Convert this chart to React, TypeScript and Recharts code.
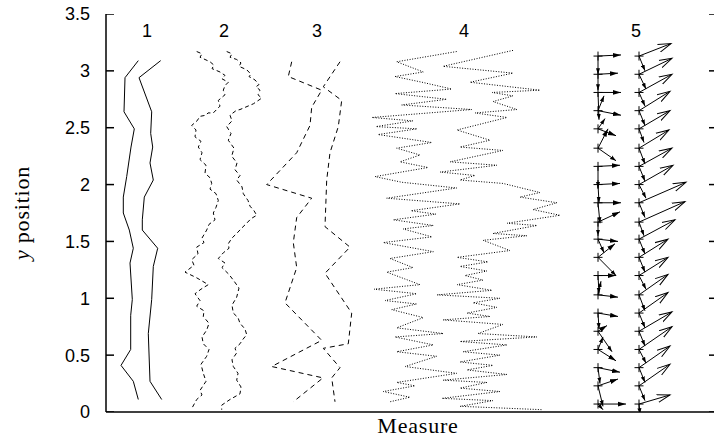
import { ComposedChart, Line, Scatter, XAxis, YAxis, Label } from 'recharts';

const SANS = '"Liberation Sans", Arial, Helvetica, sans-serif';
const SERIF = '"Liberation Serif", "Times New Roman", serif';

// axes
const yTicks = [0, 0.5, 1, 1.5, 2, 2.5, 3, 3.5];
const xDomain: [number, number] = [0, 61.2];

// group labels along the top
const groupNames = ['1', '2', '3', '4', '5'];
const groupX = [4.1, 11.8, 21.1, 35.8, 53.0];
const groupLabelY = 3.35;

type P = [number, number];

// measure 1 (solid)
const m1Left: P[] = [[3.23, 3.09], [1.9, 2.94], [1.8, 2.64], [2.83, 2.49], [2.5, 2.33], [2.07, 2.07], [1.73, 1.89], [1.73, 1.75], [2.33, 1.6], [2.73, 1.44], [2.4, 1.31], [2.63, 0.99], [2.47, 0.85], [2.47, 0.55], [1.5, 0.41], [2.73, 0.27], [3.23, 0.11]];
const m1Right: P[] = [[5.47, 3.09], [3.3, 2.94], [4.57, 2.64], [4.47, 2.45], [4.67, 2.33], [4.4, 2.19], [4.73, 2.04], [3.83, 1.89], [3.63, 1.69], [3.63, 1.6], [5.17, 1.44], [4.73, 1.28], [4.57, 0.99], [4.23, 0.69], [4.4, 0.27], [5.57, 0.11]];

// measure 2 (short dashes)
const m2Left: P[] = [[9.07, 3.17], [9.6, 3.15], [9.4, 3.12], [10.4, 3.08], [10.8, 3.05], [10.6, 3.02], [11.4, 2.99], [11.9, 2.96], [11.6, 2.93], [12.23, 2.9], [11.9, 2.87], [11.73, 2.83], [11.9, 2.79], [11.23, 2.74], [11.4, 2.69], [10.73, 2.63], [10.2, 2.63], [10.0, 2.61], [9.4, 2.6], [9.1, 2.56], [8.57, 2.52], [9.0, 2.48], [8.9, 2.42], [9.5, 2.38], [9.23, 2.33], [9.6, 2.28], [9.4, 2.22], [10.0, 2.17], [9.9, 2.1], [10.4, 2.06], [10.57, 2.01], [10.4, 1.96], [11.0, 1.92], [11.23, 1.86], [11.0, 1.8], [10.73, 1.75], [10.9, 1.69], [10.3, 1.65], [10.07, 1.6], [9.6, 1.53], [9.8, 1.49], [9.07, 1.45], [9.2, 1.39], [8.57, 1.34], [8.8, 1.29], [7.9, 1.23], [9.07, 1.18], [10.23, 1.12], [9.5, 1.08], [8.9, 1.04], [9.4, 0.98], [9.07, 0.93], [9.8, 0.89], [9.73, 0.84], [10.3, 0.78], [10.07, 0.72], [9.6, 0.66], [9.73, 0.6], [10.3, 0.55], [10.07, 0.49], [9.5, 0.42], [9.73, 0.34], [10.0, 0.27], [9.4, 0.19], [9.6, 0.15], [9.07, 0.11], [8.57, 0.03]];
const m2Right: P[] = [[12.07, 3.17], [12.6, 3.15], [12.4, 3.12], [13.07, 3.1], [13.5, 3.07], [13.3, 3.04], [14.07, 3.01], [14.5, 2.97], [14.3, 2.95], [14.9, 2.92], [15.3, 2.88], [15.0, 2.86], [15.4, 2.83], [15.2, 2.79], [15.57, 2.76], [14.73, 2.71], [14.2, 2.69], [13.4, 2.66], [13.0, 2.65], [12.4, 2.61], [12.6, 2.56], [12.07, 2.51], [12.5, 2.45], [12.23, 2.39], [12.8, 2.32], [12.57, 2.25], [13.1, 2.19], [12.9, 2.13], [13.4, 2.08], [13.07, 2.04], [13.6, 1.98], [13.73, 1.92], [14.2, 1.86], [14.4, 1.81], [14.8, 1.77], [15.07, 1.73], [14.5, 1.7], [14.07, 1.66], [13.6, 1.62], [13.07, 1.57], [12.6, 1.53], [12.23, 1.48], [12.3, 1.44], [11.73, 1.4], [11.23, 1.35], [11.9, 1.31], [11.6, 1.27], [12.3, 1.21], [12.73, 1.16], [13.3, 1.09], [13.07, 1.01], [12.6, 0.94], [12.73, 0.87], [13.2, 0.83], [13.4, 0.78], [13.9, 0.73], [14.07, 0.68], [13.7, 0.64], [13.4, 0.6], [12.9, 0.56], [13.07, 0.52], [12.6, 0.46], [12.73, 0.4], [13.2, 0.34], [13.07, 0.28], [13.5, 0.22], [13.4, 0.16], [12.8, 0.13], [12.4, 0.11], [11.9, 0.08], [11.57, 0.06], [11.57, 0.02]];

// measure 3 (long dashes)
const m3Left: P[] = [[18.57, 3.08], [18.23, 2.95], [21.57, 2.83], [20.57, 2.68], [20.4, 2.52], [19.07, 2.28], [16.07, 2.0], [20.57, 1.88], [19.07, 1.71], [18.73, 1.49], [19.07, 1.27], [17.9, 0.96], [21.57, 0.63], [16.57, 0.4], [21.7, 0.3], [18.73, 0.09]];
const m3Right: P[] = [[23.4, 3.08], [21.73, 2.86], [23.57, 2.74], [23.23, 2.51], [22.4, 2.28], [22.07, 2.04], [21.9, 1.63], [24.4, 1.45], [21.9, 1.22], [24.57, 0.87], [24.23, 0.6], [21.73, 0.56], [23.4, 0.39], [22.57, 0.3], [22.9, 0.09]];

// measure 4 (dotted zigzag)
const m4Left: P[] = [[35.07, 3.17], [29.07, 3.08], [31.73, 2.99], [28.9, 2.95], [31.6, 2.9], [34.57, 2.84], [28.9, 2.8], [34.07, 2.75], [29.57, 2.7], [36.57, 2.66], [26.6, 2.59], [30.7, 2.56], [27.0, 2.51], [31.1, 2.49], [27.2, 2.44], [32.57, 2.37], [29.07, 2.32], [31.4, 2.26], [29.4, 2.2], [32.2, 2.15], [26.9, 2.07], [29.6, 2.02], [35.07, 1.97], [28.07, 1.88], [35.4, 1.83], [30.5, 1.77], [33.0, 1.74], [28.73, 1.69], [32.73, 1.64], [29.7, 1.61], [32.6, 1.54], [27.73, 1.49], [32.73, 1.41], [28.4, 1.35], [30.7, 1.27], [28.07, 1.23], [31.4, 1.12], [26.8, 1.08], [31.07, 1.04], [27.9, 0.98], [31.07, 0.95], [28.57, 0.9], [31.73, 0.83], [29.07, 0.74], [33.73, 0.69], [28.9, 0.66], [32.73, 0.59], [29.07, 0.53], [33.07, 0.49], [29.9, 0.4], [35.07, 0.34], [29.07, 0.26], [30.9, 0.23], [27.73, 0.18], [30.4, 0.13], [28.4, 0.09]];
const m4Right: P[] = [[40.7, 3.18], [33.7, 3.04], [40.7, 2.98], [36.4, 2.9], [43.4, 2.83], [38.6, 2.81], [40.7, 2.78], [38.7, 2.73], [41.1, 2.66], [36.9, 2.63], [40.1, 2.59], [35.1, 2.48], [38.4, 2.39], [35.4, 2.33], [39.7, 2.3], [34.4, 2.2], [39.1, 2.17], [33.4, 2.11], [36.9, 2.08], [35.4, 2.04], [39.7, 2.01], [43.4, 1.93], [41.4, 1.89], [45.1, 1.84], [42.7, 1.78], [45.4, 1.73], [40.1, 1.66], [43.1, 1.64], [38.7, 1.57], [42.1, 1.55], [37.7, 1.51], [40.4, 1.42], [35.1, 1.36], [38.2, 1.32], [35.4, 1.28], [38.1, 1.24], [35.9, 1.2], [37.7, 1.16], [35.1, 1.12], [38.6, 1.07], [33.1, 1.03], [39.4, 1.0], [36.7, 0.96], [39.1, 0.92], [36.1, 0.87], [38.4, 0.84], [33.7, 0.81], [39.7, 0.77], [37.2, 0.69], [43.1, 0.66], [35.4, 0.62], [40.1, 0.59], [35.7, 0.53], [39.4, 0.5], [35.4, 0.44], [38.7, 0.41], [36.1, 0.37], [40.1, 0.33], [33.7, 0.28], [38.1, 0.26], [35.4, 0.21], [39.4, 0.18], [33.6, 0.12], [38.7, 0.1], [35.4, 0.05], [43.7, 0.02]];

// measure 5 (vectors): two columns of base points, two vectors per point
const vecRowsY = [3.13, 2.97, 2.81, 2.65, 2.49, 2.32, 2.16, 2.0, 1.84, 1.67, 1.52, 1.36, 1.2, 1.03, 0.87, 0.71, 0.55, 0.39, 0.23, 0.07];
const vecColA = 49.2;
const vecColB = 53.3;
const aMainDx = [2.3, 2.0, 2.3, 2.3, 1.8, 1.0, 2.2, 2.2, 2.3, 2.2, 2.0, 1.7, 1.8, 2.0, 2.0, 0.9, 1.8, 2.2, 2.0, 2.8];
const aMainDy = [0.01, 0.01, 0, -0.04, -0.06, 0.17, 0.01, 0.01, 0, 0.09, -0.02, 0.12, 0, -0.02, -0.03, 0.05, -0.1, -0.04, 0.06, 0];
const aSideDx = [0, 0, 0.1, 0.6, 0.7, 1.8, 0, 0.1, 0.2, 0, 0.6, 1.8, 0.1, 0.3, 0.1, 1.4, 0.5, 0.2, 0.5, 0.5];
const aSideDy = [-0.16, -0.14, -0.24, 0.13, 0.09, -0.11, -0.19, -0.16, -0.18, -0.12, -0.12, -0.16, -0.16, 0.12, -0.14, -0.18, 0.11, -0.14, -0.18, -0.05];
const bMainDx = [3.2, 3.3, 3.3, 3.1, 3.1, 3.0, 3.3, 3.4, 4.7, 4.6, 3.6, 2.9, 2.9, 2.9, 2.9, 3.3, 3.3, 3.1, 3.1, 3.1];
const bMainDy = [0.11, 0.14, 0.16, 0.17, 0.16, 0.16, 0.16, 0.17, 0.18, 0.18, 0.17, 0.16, 0.16, 0.18, 0.18, 0.17, 0.2, 0.19, 0.19, 0.08];
const bSideDx = [0.6, 0.7, 0.6, 0.6, 0.5, 0.6, 0.6, 0.7, 0.6, 0.5, 0.6, 0.6, 0.7, 0.6, 0.6, 0.6, 0.7, 0.6, 0.6, 0.1];
const bSideDy = [-0.13, -0.13, -0.12, -0.13, -0.12, -0.14, -0.13, -0.12, -0.13, -0.12, -0.13, -0.13, -0.12, -0.14, -0.13, -0.13, -0.12, -0.13, -0.13, -0.09];

const toPts = (arr: P[]) => arr.map(([x, y]) => ({ x, y }));

const traces = [
  { key: 'm1a', data: m1Left, dash: undefined },
  { key: 'm1b', data: m1Right, dash: undefined },
  { key: 'm2a', data: m2Left, dash: '4 3' },
  { key: 'm2b', data: m2Right, dash: '4 3' },
  { key: 'm3a', data: m3Left, dash: '5 4' },
  { key: 'm3b', data: m3Right, dash: '5 4' },
  { key: 'm4a', data: m4Left, dash: '1 1.6' },
  { key: 'm4b', data: m4Right, dash: '1 1.6' },
];

const vectors = vecRowsY.flatMap((y, i) => [
  { key: `am${i}`, data: [{ x: vecColA, y }, { x: vecColA + aMainDx[i], y: y + aMainDy[i] }], head: 'url(#headFill)' },
  { key: `as${i}`, data: [{ x: vecColA, y }, { x: vecColA + aSideDx[i], y: y + aSideDy[i] }], head: 'url(#headSmall)' },
  { key: `bm${i}`, data: [{ x: vecColB, y }, { x: vecColB + bMainDx[i], y: y + bMainDy[i] }], head: 'url(#headOpen)' },
  { key: `bs${i}`, data: [{ x: vecColB, y }, { x: vecColB + bSideDx[i], y: y + bSideDy[i] }], head: 'url(#headSmall)' },
]);

const bases = vecRowsY.flatMap((y) => [{ x: vecColA, y }, { x: vecColB, y }]);
const groupLabels = groupNames.map((name, i) => ({ x: groupX[i], y: groupLabelY, name }));
// tick anchors on both borders (left axis and right border)
const leftTickAnchors = yTicks.map((y) => ({ x: xDomain[0], y }));
const rightTickAnchors = yTicks.map((y) => ({ x: xDomain[1], y }));

const Cross = (props: any) => {
  const { cx, cy } = props;
  return <path d={`M${cx - 4.5},${cy}h9M${cx},${cy - 4.5}v9`} stroke="#000" strokeWidth={1} fill="none" />;
};

// inward tick marks
const LeftTickMark = (props: any) => {
  const { cx, cy } = props;
  return <path d={`M${cx},${cy}h8`} stroke="#000" strokeWidth={1.5} fill="none" />;
};

const RightTickMark = (props: any) => {
  const { cx, cy } = props;
  return <path d={`M${cx - 9},${cy}h9`} stroke="#000" strokeWidth={1.5} fill="none" />;
};

const GroupText = (props: any) => {
  const { cx, cy, payload } = props;
  return (
    <text x={cx} y={cy} textAnchor="middle" dominantBaseline="central" fontFamily={SANS} fontSize={18} fill="#000">
      {payload.name}
    </text>
  );
};

const YTitle = (props: any) => {
  const { viewBox } = props;
  const cx = viewBox.x + 29;
  const cy = viewBox.y + viewBox.height / 2;
  return (
    <text x={cx} y={cy} transform={`rotate(-90 ${cx} ${cy})`} textAnchor="middle" fontFamily={SERIF} fontSize={22} letterSpacing={0.8} fill="#000">
      <tspan fontStyle="italic">y</tspan> position
    </text>
  );
};

export default function App() {
  return (
    <div style={{ position: 'absolute', left: 0, top: 0, width: 714, height: 443, background: '#fff', overflow: 'hidden' }}>
      <svg width={0} height={0} style={{ position: 'absolute' }}>
        <defs>
          <marker id="headOpen" markerUnits="userSpaceOnUse" markerWidth={15} markerHeight={10} refX={13} refY={5} orient="auto">
            <path d="M0,1 L13,5 L0,9" fill="none" stroke="#000" strokeWidth={1} />
          </marker>
          <marker id="headFill" markerUnits="userSpaceOnUse" markerWidth={9} markerHeight={6} refX={8} refY={3} orient="auto">
            <path d="M0,0.6 L8,3 L0,5.4 Z" fill="#000" />
          </marker>
          <marker id="headSmall" markerUnits="userSpaceOnUse" markerWidth={7} markerHeight={5} refX={6} refY={2.5} orient="auto">
            <path d="M0,0.5 L6,2.5 L0,4.5 Z" fill="#000" />
          </marker>
        </defs>
      </svg>
      <ComposedChart width={714} height={443} margin={{ top: 14, right: -4, bottom: 0, left: 0 }}>
        <XAxis
          dataKey="x"
          type="number"
          domain={xDomain}
          allowDataOverflow
          tick={false}
          tickLine={false}
          height={31}
          axisLine={{ stroke: '#000', strokeWidth: 1.5 }}
        >
          <Label value="Measure" position="insideBottom" offset={10} dx={6} fontFamily={SERIF} fontSize={22} letterSpacing={0.8} fill="#000" />
        </XAxis>
        <XAxis
          xAxisId="top"
          orientation="top"
          dataKey="x"
          type="number"
          domain={xDomain}
          allowDataOverflow
          tick={false}
          tickLine={false}
          height={0}
          axisLine={{ stroke: '#000', strokeWidth: 1.5 }}
        />
        <YAxis
          dataKey="y"
          type="number"
          domain={[0, 3.5]}
          ticks={yTicks}
          allowDataOverflow
          width={106}
          tickSize={0}
          tickMargin={16}
          tickLine={false}
          axisLine={{ stroke: '#000', strokeWidth: 1.5 }}
          tick={{ fill: '#000', fontSize: 18, fontFamily: SANS }}
        >
          <Label content={YTitle} />
        </YAxis>

        {traces.map((t) => (
          <Line
            key={t.key}
            data={toPts(t.data)}
            dataKey="y"
            type="linear"
            stroke="#000"
            strokeWidth={1}
            strokeDasharray={t.dash}
            dot={false}
            activeDot={false}
            isAnimationActive={false}
          />
        ))}

        {vectors.map((v) => (
          <Line
            key={v.key}
            data={v.data}
            dataKey="y"
            type="linear"
            stroke="#000"
            strokeWidth={1}
            markerEnd={v.head}
            dot={false}
            activeDot={false}
            isAnimationActive={false}
          />
        ))}

        <Scatter data={bases} shape={Cross} isAnimationActive={false} />
        <Scatter data={groupLabels} shape={GroupText} isAnimationActive={false} />
        <Scatter data={leftTickAnchors} shape={LeftTickMark} isAnimationActive={false} />
        <Scatter data={rightTickAnchors} shape={RightTickMark} isAnimationActive={false} />
      </ComposedChart>
    </div>
  );
}
